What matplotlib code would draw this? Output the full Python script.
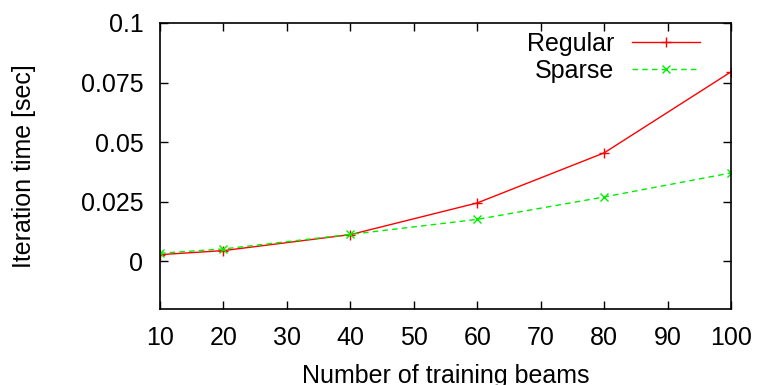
import matplotlib
matplotlib.use("Agg")
import matplotlib.pyplot as plt

plt.rcParams['font.family'] = ['Liberation Sans', 'DejaVu Sans']

# training beams vs. iteration time
beams = [10, 20, 40, 60, 80, 100]
regular = [0.0028, 0.0045, 0.0112, 0.0245, 0.0455, 0.0795]
sparse = [0.0034, 0.0052, 0.0113, 0.0176, 0.0270, 0.0371]

xticks = [10, 20, 30, 40, 50, 60, 70, 80, 90, 100]
yticks = [0, 0.025, 0.05, 0.075, 0.1]
ytick_labels = ['0', '0.025', '0.05', '0.075', '0.1']

fig = plt.figure(figsize=(7.59, 3.85), dpi=100)
ax = fig.add_axes([160 / 759, 1 - 309 / 385, 571 / 759, 286 / 385])

ax.plot(beams, regular, color='#ff0000', lw=1.0, marker='+', ms=7, mew=1.0,
        label='Regular')
ax.plot(beams, sparse, color='#00ee00', lw=1.0, ls=(0, (4, 3)), marker='x',
        ms=5.5, mew=1.0, label='Sparse')

ax.set_xlim(10, 100)
ax.set_ylim(-0.02, 0.1)
ax.set_xticks(xticks)
ax.set_yticks(yticks)
ax.set_yticklabels(ytick_labels)
ax.tick_params(direction='in', length=6, width=1, top=True, right=True,
               labelsize=18, colors='black')
ax.tick_params(axis='y', pad=12)
ax.tick_params(axis='x', pad=12)
for s in ax.spines.values():
    s.set_linewidth(1.2)

ax.set_xlabel('Number of training beams', fontsize=18, labelpad=10)
ax.set_ylabel('Iteration time [sec]', fontsize=18, labelpad=32)

ax.legend(loc='upper right', bbox_to_anchor=(540 / 571, 0.968), frameon=False,
          markerfirst=False, fontsize=18, handlelength=2.7,
          handletextpad=0.72, labelspacing=0.12, borderaxespad=0,
          borderpad=0)

fig.savefig('out.png', dpi=100)
